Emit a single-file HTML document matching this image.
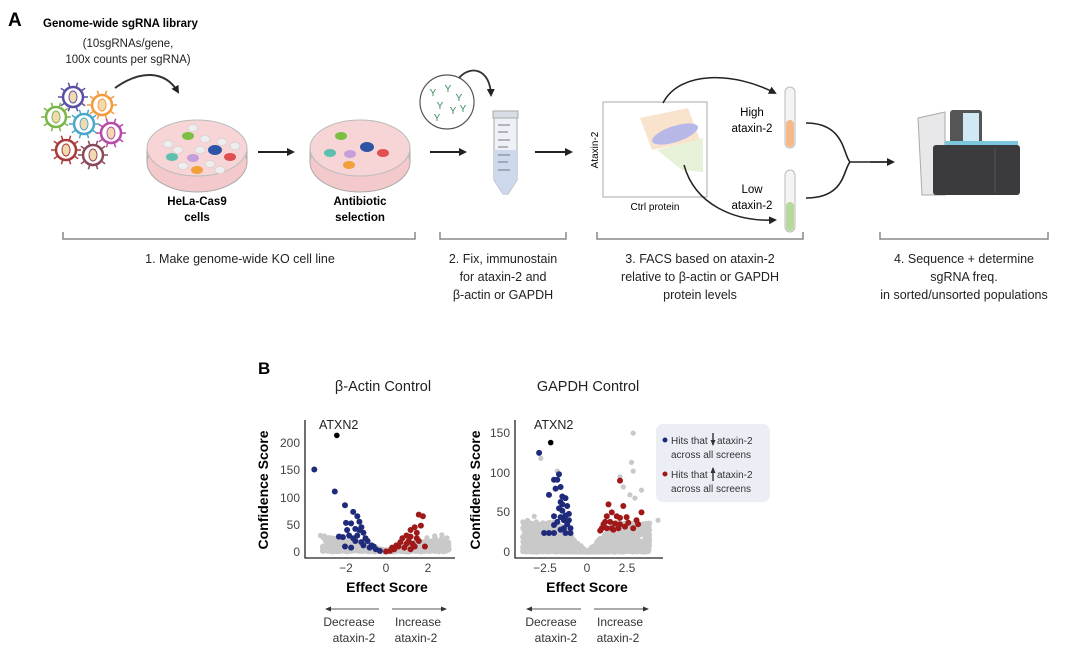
<!DOCTYPE html>
<html><head><meta charset="utf-8"><style>
html,body{margin:0;padding:0;background:#fff;}
svg{display:block;font-family:"Liberation Sans",Arial,sans-serif;}
</style></head><body>
<svg id="s" width="1080" height="657" viewBox="0 0 1080 657" xmlns="http://www.w3.org/2000/svg">
<defs>
<marker id="ah" markerWidth="8" markerHeight="8" refX="6" refY="4" orient="auto" markerUnits="userSpaceOnUse"><path d="M0,0 L8,4 L0,8 Z" fill="#222"/></marker>
<marker id="sa" markerWidth="6" markerHeight="6" refX="5" refY="3" orient="auto" markerUnits="userSpaceOnUse"><path d="M0,0.5 L6,3 L0,5.5 Z" fill="#333"/></marker>
</defs>
<!-- Panel A -->
<text x="8" y="26" font-size="19" font-weight="bold">A</text>
<text x="43" y="27" font-size="11.5" font-weight="bold">Genome-wide sgRNA library</text>
<text x="128" y="47" font-size="11.5" text-anchor="middle" fill="#222">(10sgRNAs/gene,</text>
<text x="128" y="63" font-size="11.5" text-anchor="middle" fill="#222">100x counts per sgRNA)</text>
<g id="viruses" fill="none" stroke-width="2.5"></g>
<path d="M115,88 C140,70 165,70 178,92" fill="none" stroke="#333" stroke-width="2" marker-end="url(#ah)"/>
<!-- dish 1 -->
<g>
<ellipse cx="197" cy="162" rx="50" ry="30" fill="#f4c9cc" stroke="#aaa"/>
<path d="M147,148 L147,162 M247,148 L247,162" stroke="#aaa"/>
<ellipse cx="197" cy="148" rx="50" ry="28" fill="#f7d5d7" stroke="#bbb"/>
<ellipse cx="188" cy="136" rx="6" ry="4" fill="#7bc043"/>
<ellipse cx="215" cy="150" rx="7" ry="5" fill="#2c55a8"/>
<ellipse cx="172" cy="157" rx="6" ry="4" fill="#5cbfb0"/>
<ellipse cx="193" cy="158" rx="6" ry="4" fill="#c59fdc"/>
<ellipse cx="230" cy="157" rx="6" ry="4" fill="#e05050"/>
<ellipse cx="197" cy="170" rx="6" ry="4" fill="#f2a03c"/>
<g fill="#eee" stroke="#ccc" stroke-width=".6">
<ellipse cx="168" cy="144" rx="5" ry="3.5"/><ellipse cx="178" cy="150" rx="5" ry="3.5"/><ellipse cx="205" cy="139" rx="5" ry="3.5"/><ellipse cx="222" cy="142" rx="5" ry="3.5"/><ellipse cx="200" cy="150" rx="5" ry="3.5"/><ellipse cx="183" cy="166" rx="5" ry="3.5"/><ellipse cx="210" cy="164" rx="5" ry="3.5"/><ellipse cx="220" cy="170" rx="5" ry="3.5"/><ellipse cx="235" cy="146" rx="5" ry="3.5"/><ellipse cx="193" cy="128" rx="5" ry="3.5"/>
</g>
</g>
<text x="197" y="205" font-size="11.5" font-weight="bold" text-anchor="middle">HeLa-Cas9</text>
<text x="197" y="221" font-size="11.5" font-weight="bold" text-anchor="middle">cells</text>
<line x1="258" y1="152" x2="293" y2="152" stroke="#222" stroke-width="2" marker-end="url(#ah)"/>
<!-- dish 2 -->
<g>
<ellipse cx="360" cy="162" rx="50" ry="30" fill="#f4c9cc" stroke="#aaa"/>
<path d="M310,148 L310,162 M410,148 L410,162" stroke="#aaa"/>
<ellipse cx="360" cy="148" rx="50" ry="28" fill="#f7d5d7" stroke="#bbb"/>
<ellipse cx="341" cy="136" rx="6" ry="4" fill="#7bc043"/>
<ellipse cx="367" cy="147" rx="7" ry="5" fill="#2c55a8"/>
<ellipse cx="330" cy="153" rx="6" ry="4" fill="#5cbfb0"/>
<ellipse cx="350" cy="154" rx="6" ry="4" fill="#c59fdc"/>
<ellipse cx="383" cy="153" rx="6" ry="4" fill="#e05050"/>
<ellipse cx="349" cy="165" rx="6" ry="4" fill="#f2a03c"/>
</g>
<text x="360" y="205" font-size="11.5" font-weight="bold" text-anchor="middle">Antibiotic</text>
<text x="360" y="221" font-size="11.5" font-weight="bold" text-anchor="middle">selection</text>
<line x1="430" y1="152" x2="465" y2="152" stroke="#222" stroke-width="2" marker-end="url(#ah)"/>
<!-- antibody circle -->
<circle cx="447" cy="102" r="27" fill="#fff" stroke="#555" stroke-width="1.2"/>
<g fill="#3a8a5a" font-size="10" text-anchor="middle">
<text x="433" y="96">Y</text><text x="448" y="92">Y</text><text x="459" y="101">Y</text><text x="440" y="109">Y</text><text x="453" y="114">Y</text><text x="437" y="121">Y</text><text x="463" y="112">Y</text>
</g>
<path d="M459,78 C470,65 490,68 491,95" fill="none" stroke="#333" stroke-width="1.8" marker-end="url(#ah)"/>
<!-- tube -->
<rect x="493" y="111" width="25" height="7" fill="#d9dde6" stroke="#aaa"/>
<path d="M494,118 L517,118 L517,180 L508,194 L503,194 L494,180 Z" fill="#eef1f6" stroke="#aaa"/>
<path d="M494,150 L517,150 L517,180 L508,194 L503,194 L494,180 Z" fill="#cdd8ec"/>
<g stroke="#778" stroke-width="1"><line x1="498" y1="125" x2="510" y2="125"/><line x1="498" y1="132" x2="508" y2="132"/><line x1="498" y1="140" x2="510" y2="140"/><line x1="498" y1="147" x2="508" y2="147"/><line x1="498" y1="155" x2="510" y2="155"/><line x1="498" y1="162" x2="508" y2="162"/><line x1="498" y1="170" x2="510" y2="170"/></g>
<line x1="535" y1="152" x2="571" y2="152" stroke="#222" stroke-width="2" marker-end="url(#ah)"/>
<!-- FACS -->
<rect x="603" y="102" width="104" height="95" fill="#fff" stroke="#aaa"/>
<polygon points="640,118 688,108 700,140 652,150" fill="#f8dcc0" opacity=".8"/>
<polygon points="657,150 703,138 703,172 682,170" fill="#e3efd4" opacity=".9"/>
<ellipse cx="675" cy="134" rx="24" ry="8" fill="#b8b8e8" transform="rotate(-18 675 134)"/>
<text transform="translate(598,150) rotate(-90)" font-size="10" text-anchor="middle">Ataxin-2</text>
<text x="655" y="210" font-size="10" text-anchor="middle">Ctrl protein</text>
<path d="M663,103 C680,70 735,72 775,93" fill="none" stroke="#222" stroke-width="1.5" marker-end="url(#ah)"/>
<path d="M684,165 C695,205 735,222 775,220" fill="none" stroke="#222" stroke-width="1.5" marker-end="url(#ah)"/>
<text x="752" y="116" font-size="11.5" text-anchor="middle">High</text>
<text x="752" y="132" font-size="11.5" text-anchor="middle">ataxin-2</text>
<text x="752" y="193" font-size="11.5" text-anchor="middle">Low</text>
<text x="752" y="209" font-size="11.5" text-anchor="middle">ataxin-2</text>
<rect x="785" y="87" width="10" height="61" rx="5" fill="#f4f4f4" stroke="#bbb"/>
<rect x="786" y="120" width="8" height="27" rx="4" fill="#f5b98a"/>
<rect x="785" y="170" width="10" height="62" rx="5" fill="#f4f4f4" stroke="#bbb"/>
<rect x="786" y="202" width="8" height="29" rx="4" fill="#b7d99a"/>
<path d="M806,123 C845,123 843,155 850,162 M806,198 C845,198 843,170 850,162 M850,162 L890,162" fill="none" stroke="#222" stroke-width="1.6"/>
<line x1="870" y1="162" x2="893" y2="162" stroke="#222" stroke-width="1.6" marker-end="url(#ah)"/>
<!-- sequencer -->
<path d="M918,118 L945,112 L945,195 L922,195 Z" fill="#e8e8ea" stroke="#aaa"/>
<rect x="950" y="110" width="32" height="35" rx="3" fill="#555"/>
<rect x="963" y="113" width="16" height="28" fill="#cfeaf5"/>
<rect x="945" y="141" width="73" height="4" fill="#7cc6dd"/>
<rect x="933" y="145" width="87" height="50" rx="3" fill="#3b3b3e"/>
<line x1="995" y1="148" x2="995" y2="193" stroke="#555"/>
<!-- brackets -->
<g fill="none" stroke="#888" stroke-width="1.5">
<path d="M63,232 L63,239 L415,239 L415,232"/>
<path d="M440,232 L440,239 L566,239 L566,232"/>
<path d="M597,232 L597,239 L803,239 L803,232"/>
<path d="M880,232 L880,239 L1048,239 L1048,232"/>
</g>
<g font-size="12.5" text-anchor="middle" fill="#222">
<text x="240" y="263">1. Make genome-wide KO cell line</text>
<text x="503" y="263">2. Fix, immunostain</text>
<text x="503" y="281">for ataxin-2 and</text>
<text x="503" y="299">β-actin or GAPDH</text>
<text x="700" y="263">3. FACS based on ataxin-2</text>
<text x="700" y="281">relative to β-actin or GAPDH</text>
<text x="700" y="299">protein levels</text>
<text x="964" y="263">4. Sequence + determine</text>
<text x="964" y="281">sgRNA freq.</text>
<text x="964" y="299">in sorted/unsorted populations</text>
</g>
<!-- Panel B -->
<text x="258" y="374" font-size="17" font-weight="bold">B</text>
<text x="383" y="391" font-size="14.5" text-anchor="middle" fill="#222">β-Actin Control</text>
<text x="588" y="391" font-size="14.5" text-anchor="middle" fill="#222">GAPDH Control</text>
<g id="p1"></g><g id="p2"></g>
<g stroke="#222" stroke-width="1.3" fill="none">
<path d="M305,420 L305,558 L455,558"/>
<path d="M515,420 L515,558 L663,558"/>
</g>
<g font-size="12" fill="#444" text-anchor="end">
<text x="300" y="447">200</text><text x="300" y="420" opacity="0"></text>
<text x="300" y="474">150</text><text x="300" y="502">100</text><text x="300" y="529">50</text><text x="300" y="556">0</text>
<text x="510" y="437">150</text><text x="510" y="477">100</text><text x="510" y="516">50</text><text x="510" y="556">0</text>
</g>
<g font-size="12" fill="#444" text-anchor="middle">
<text x="346" y="572">−2</text><text x="386" y="572">0</text><text x="428" y="572">2</text>
<text x="545" y="572">−2.5</text><text x="587" y="572">0</text><text x="627" y="572">2.5</text>
</g>
<text x="387" y="592" font-size="14" font-weight="bold" text-anchor="middle">Effect Score</text>
<text x="587" y="592" font-size="14" font-weight="bold" text-anchor="middle">Effect Score</text>
<text transform="translate(268,490) rotate(-90)" font-size="14" font-weight="bold" text-anchor="middle">Confidence Score</text>
<text transform="translate(480,490) rotate(-90)" font-size="14" font-weight="bold" text-anchor="middle">Confidence Score</text>
<text x="319" y="429" font-size="12.5" fill="#222">ATXN2</text>
<text x="534" y="429" font-size="12.5" fill="#222">ATXN2</text>
<g stroke="#555" stroke-width="1">
<line x1="379" y1="609" x2="326" y2="609" marker-end="url(#sa)"/>
<line x1="392" y1="609" x2="446" y2="609" marker-end="url(#sa)"/>
<line x1="581" y1="609" x2="527" y2="609" marker-end="url(#sa)"/>
<line x1="594" y1="609" x2="648" y2="609" marker-end="url(#sa)"/>
</g>
<g font-size="12" fill="#333" text-anchor="middle">
<text x="349" y="626">Decrease</text><text x="354" y="642">ataxin-2</text>
<text x="418" y="626">Increase</text><text x="416" y="642">ataxin-2</text>
<text x="551" y="626">Decrease</text><text x="556" y="642">ataxin-2</text>
<text x="620" y="626">Increase</text><text x="618" y="642">ataxin-2</text>
</g>
<!-- legend -->
<rect x="656" y="424" width="114" height="78" rx="7" fill="#eceef6"/>
<circle cx="665" cy="440" r="2.5" fill="#1f2a7a"/>
<circle cx="665" cy="474" r="2.5" fill="#a01818"/>
<g font-size="10" fill="#333">
<text x="671" y="444">Hits that</text><text x="717" y="444">ataxin-2</text>
<text x="671" y="458">across all screens</text>
<text x="671" y="478">Hits that</text><text x="717" y="478">ataxin-2</text>
<text x="671" y="492">across all screens</text>
</g>
<line x1="713" y1="433" x2="713" y2="445" stroke="#222" stroke-width="1.3" marker-end="url(#sa)"/>
<line x1="713" y1="481" x2="713" y2="468" stroke="#222" stroke-width="1.3" marker-end="url(#sa)"/>
</svg>
<script>
(function(){
var NS="http://www.w3.org/2000/svg";
var seed=7;function r(){seed=(seed*16807)%2147483647;return seed/2147483647;}
function dot(g,x,y,rad,c){var e=document.createElementNS(NS,"circle");e.setAttribute("cx",x.toFixed(1));e.setAttribute("cy",y.toFixed(1));e.setAttribute("r",rad);e.setAttribute("fill",c);g.appendChild(e);}
var G="#c9c9c9",B="#1f2a7a",R="#a01818";
// viruses
var vg=document.getElementById("viruses");
var vs=[[73,97,"#5a4fa3"],[102,105,"#f29a3d"],[56,117,"#7ab648"],[84,124,"#4aa7c9"],[111,133,"#b54aa8"],[66,150,"#a83a3a"],[93,155,"#8a4a5a"]];
vs.forEach(function(v){var c=document.createElementNS(NS,"circle");c.setAttribute("cx",v[0]);c.setAttribute("cy",v[1]);c.setAttribute("r",10);c.setAttribute("stroke",v[2]);c.setAttribute("fill","#fff");vg.appendChild(c);
for(var k=0;k<10;k++){var a=k*Math.PI/5,l=document.createElementNS(NS,"line");l.setAttribute("x1",v[0]+11*Math.cos(a));l.setAttribute("y1",v[1]+11*Math.sin(a));l.setAttribute("x2",v[0]+15*Math.cos(a));l.setAttribute("y2",v[1]+15*Math.sin(a));l.setAttribute("stroke",v[2]);l.setAttribute("stroke-width","1.5");vg.appendChild(l);}
var e=document.createElementNS(NS,"ellipse");e.setAttribute("cx",v[0]);e.setAttribute("cy",v[1]);e.setAttribute("rx",4);e.setAttribute("ry",6);e.setAttribute("stroke",v[2]);e.setAttribute("stroke-width","1");e.setAttribute("fill","#f3d9b0");vg.appendChild(e);});
// plot1: x0=386, 20.5px/unit; y0=552, .55px/unit
var p1=document.getElementById("p1");
function X1(x){return 386+20.5*x;}function Y1(y){return 552-0.55*y;}
for(var i=0;i<900;i++){var x=-3.1+r()*6.2;var m=Math.min(Math.abs(x)*14,30);var y=r()*r()*m+r()*4;dot(p1,X1(x),Y1(y),2.6,G);}
[[-3.2,30],[-2.5,25],[2.8,20],[2.5,15],[-2.2,15]].forEach(function(p){dot(p1,X1(p[0]),Y1(p[1]),2.6,G);});
var b1=[[-3.5,150],[-2.5,110],[-2.0,85],[-1.6,73],[-1.95,53],[-1.7,52],[-1.4,65],[-1.3,55],[-2.3,28],[-2.1,27],[-2.0,10],[-1.8,30],[-1.5,42],[-1.2,45],[-1.1,35],[-1.6,25],[-1.4,30],[-1.0,25],[-0.9,20],[-1.2,18],[-0.7,12],[-0.5,5],[-0.3,2],[-1.7,8],[-1.3,40],[-0.8,8],[-1.5,20],[-1.9,40],[-1.1,12],[-0.6,10]];
b1.forEach(function(p){dot(p1,X1(p[0]),Y1(p[1]),3,B);});
var r1=[[1.6,68],[1.8,65],[1.4,45],[1.2,40],[1.5,35],[1.0,30],[0.8,25],[1.1,20],[1.3,15],[0.6,10],[0.4,5],[0.2,2],[0.0,1],[0.9,8],[1.2,5],[1.5,25],[1.7,48],[1.0,15],[0.7,18],[1.4,10],[1.9,10],[0.5,12],[1.2,28],[0.3,8],[1.6,20]];
r1.forEach(function(p){dot(p1,X1(p[0]),Y1(p[1]),3,R);});
dot(p1,X1(-2.4),Y1(212),2.8,"#000");
// plot2: x0=587, 16.5px/unit; y0=552, .793px/unit
var p2=document.getElementById("p2");
function X2(x){return 587+16.5*x;}function Y2(y){return 552-0.793*y;}
for(var i=0;i<1600;i++){var x=-3.9+r()*7.7;var m=Math.min(Math.abs(x)*22,38);var y=r()*m;if(r()<0.5)y*=r();dot(p2,X2(x),Y2(y),2.6,G);}
[[2.8,150],[2.7,113],[2.8,102],[-1.8,102],[2.0,95],[3.3,78],[2.9,68],[2.6,72],[2.2,82],[-2.8,118],[-3.2,45],[-3.6,40],[4.3,40]].forEach(function(p){dot(p2,X2(p[0]),Y2(p[1]),2.6,G);});
var b2=[[-2.9,125],[-1.7,98],[-2.0,91],[-1.8,91],[-1.6,82],[-1.9,80],[-2.3,72],[-1.5,70],[-1.3,68],[-1.6,63],[-1.2,58],[-1.5,52],[-1.7,55],[-2.0,45],[-1.3,46],[-1.1,48],[-1.4,40],[-1.8,38],[-1.2,35],[-1.0,30],[-2.0,34],[-1.6,28],[-1.3,24],[-2.6,24],[-2.3,24],[-2.0,24],[-1.0,24],[-1.4,30],[-1.6,44],[-1.1,40],[-1.5,60]];
b2.forEach(function(p){dot(p2,X2(p[0]),Y2(p[1]),3,B);});
var r2=[[2.0,90],[1.3,60],[2.2,58],[1.5,50],[1.2,45],[3.3,50],[2.0,43],[1.8,45],[2.4,44],[1.1,38],[1.4,38],[1.7,36],[2.0,35],[2.5,37],[3.0,40],[0.9,30],[1.2,30],[1.5,30],[1.9,30],[2.3,32],[0.8,27],[1.6,28],[2.8,30],[3.1,35],[1.0,35]];
r2.forEach(function(p){dot(p2,X2(p[0]),Y2(p[1]),3,R);});
dot(p2,X2(-2.2),Y2(138),2.8,"#000");
})();
</script>
</body></html>
